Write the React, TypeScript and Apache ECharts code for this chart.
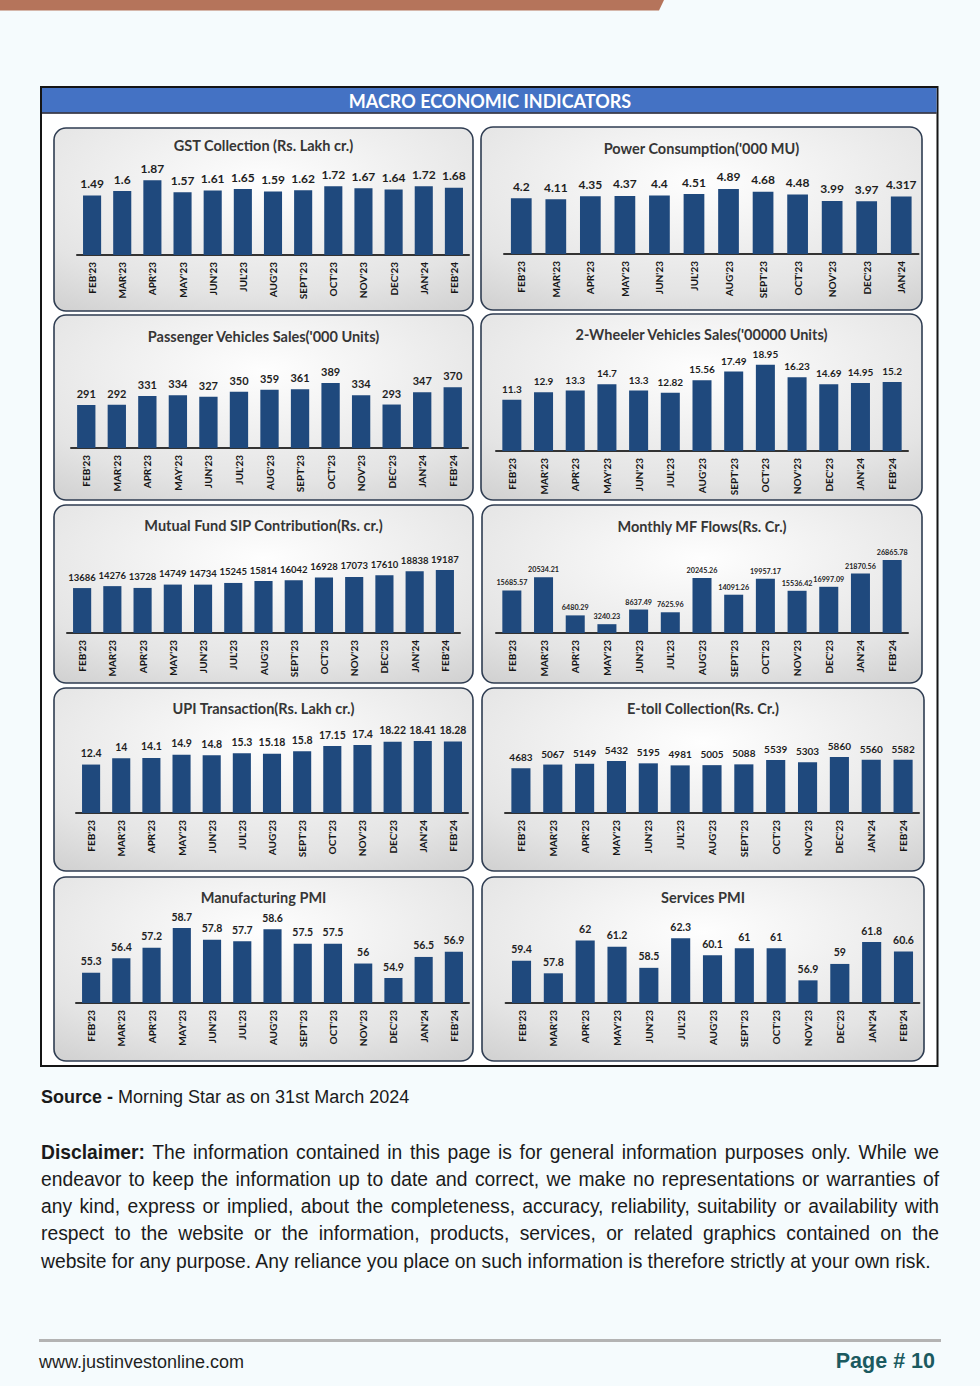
import React, { useEffect, useRef } from "react";
import * as echarts from "echarts";

// ---------- data ----------
const months13 = ["FEB'23", "MAR'23", "APR'23", "MAY'23", "JUN'23", "JUL'23", "AUG'23", "SEPT'23", "OCT'23", "NOV'23", "DEC'23", "JAN'24", "FEB'24"];
const months12 = ["FEB'23", "MAR'23", "APR'23", "MAY'23", "JUN'23", "JUL'23", "AUG'23", "SEPT'23", "OCT'23", "NOV'23", "DEC'23", "JAN'24"];

const gst = [1.49, 1.6, 1.87, 1.57, 1.61, 1.65, 1.59, 1.62, 1.72, 1.67, 1.64, 1.72, 1.68];
const power = [4.2, 4.11, 4.35, 4.37, 4.4, 4.51, 4.89, 4.68, 4.48, 3.99, 3.97, 4.317];
const passengerVehicles = [291, 292, 331, 334, 327, 350, 359, 361, 389, 334, 293, 347, 370];
const twoWheelers = [11.3, 12.9, 13.3, 14.7, 13.3, 12.82, 15.56, 17.49, 18.95, 16.23, 14.69, 14.95, 15.2];
const sip = [13686, 14276, 13728, 14749, 14734, 15245, 15814, 16042, 16928, 17073, 17610, 18838, 19187];
const mfFlows = [15685.57, 20534.21, 6480.29, 3240.23, 8637.49, 7625.96, 20245.26, 14091.26, 19957.17, 15536.42, 16997.09, 21870.56, 26865.78];
const upi = [12.4, 14, 14.1, 14.9, 14.8, 15.3, 15.18, 15.8, 17.15, 17.4, 18.22, 18.41, 18.28];
const etoll = [4683, 5067, 5149, 5432, 5195, 4981, 5005, 5088, 5539, 5303, 5860, 5560, 5582];
const mfgPmi = [55.3, 56.4, 57.2, 58.7, 57.8, 57.7, 58.6, 57.5, 57.5, 56, 54.9, 56.5, 56.9];
const servicesPmi = [59.4, 57.8, 62, 61.2, 58.5, 62.3, 60.1, 61, 61, 56.9, 59, 61.8, 60.6];

const titles = [
  "GST Collection (Rs. Lakh cr.)",
  "Power Consumption('000 MU)",
  "Passenger Vehicles Sales('000 Units)",
  "2-Wheeler Vehicles Sales('00000 Units)",
  "Mutual Fund SIP Contribution(Rs. cr.)",
  "Monthly MF Flows(Rs. Cr.)",
  "UPI Transaction(Rs. Lakh cr.)",
  "E-toll Collection(Rs. Cr.)",
  "Manufacturing PMI",
  "Services PMI",
];

// ---------- layout (positions / scales) ----------
const PLOT_H = 100;
const FONT = "Lato";
const panels = [
  { cats: months13, data: gst, box: [54, 128, 473, 311], titleY: 145, ax: [77, 469], axisY: 255, min: 0, max: 2.5, lbl: 12, dist: 6 },
  { cats: months12, data: power, box: [481, 127, 922, 310], titleY: 148, ax: [504, 918.5], axisY: 254, min: 0, max: 7.52, lbl: 12, dist: 6 },
  { cats: months13, data: passengerVehicles, box: [54, 315, 473, 500], titleY: 336, ax: [71, 468], axisY: 448, min: 100, max: 544, lbl: 11, dist: 6 },
  { cats: months13, data: twoWheelers, box: [481, 314, 922, 500], titleY: 334, ax: [496, 908], axisY: 451, min: 0, max: 22, lbl: 10, dist: 6 },
  { cats: months13, data: sip, box: [54, 505, 473, 683], titleY: 525, ax: [67, 460], axisY: 633, min: 0, max: 30460, lbl: 9.5, dist: 6 },
  { cats: months13, data: mfFlows, box: [482, 505, 922, 683], titleY: 526, ax: [496, 908], axisY: 633, min: 0, max: 36800, lbl: 7.2, dist: 4 },
  { cats: months13, data: upi, box: [54, 688, 473, 871], titleY: 708, ax: [76, 468], axisY: 813, min: 0, max: 25.6, lbl: 10.5, dist: 6 },
  { cats: months13, data: etoll, box: [482, 688, 924, 871], titleY: 708, ax: [505, 919], axisY: 813, min: 0, max: 10460, lbl: 10, dist: 6 },
  { cats: months13, data: mfgPmi, box: [54, 877, 473, 1061], titleY: 897, ax: [76, 469], axisY: 1003, min: 53, max: 60.6, lbl: 10.5, dist: 6 },
  { cats: months13, data: servicesPmi, box: [482, 877, 924, 1061], titleY: 897, ax: [505.6, 919.4], axisY: 1003, min: 54, max: 66.8, lbl: 10.5, dist: 6 },
];

function buildOption() {
  const grid: any[] = [];
  const xAxis: any[] = [];
  const yAxis: any[] = [];
  const series: any[] = [];
  const graphic: any[] = [];

  // top decorative bar
  graphic.push({
    type: "polygon",
    shape: { points: [[0, 0], [664, 0], [659, 10.5], [0, 10.5]] },
    style: { fill: "#b5745b" },
    z: 0,
  });
  // outer box
  graphic.push({
    type: "rect",
    shape: { x: 41, y: 87, width: 896.5, height: 979 },
    style: { fill: "#ffffff", stroke: "#151515", lineWidth: 2 },
    z: 0,
  });
  graphic.push({
    type: "rect",
    shape: { x: 42, y: 88, width: 894.5, height: 24.5 },
    style: { fill: "#4472c4" },
    z: 1,
  });
  graphic.push({
    type: "line",
    shape: { x1: 42, y1: 113, x2: 936.5, y2: 113 },
    style: { stroke: "#1a1a2a", lineWidth: 1.5 },
    z: 1,
  });
  graphic.push({
    type: "text",
    x: 490,
    y: 100.5,
    style: {
      text: "MACRO ECONOMIC INDICATORS",
      fill: "#ffffff",
      font: `bold 18px ${FONT}`,
      align: "center",
      verticalAlign: "middle",
    },
    z: 2,
  });

  panels.forEach((p, i) => {
    const [x0, y0, x1, y1] = p.box;
    graphic.push({
      type: "rect",
      shape: { x: x0, y: y0, width: x1 - x0, height: y1 - y0, r: 12 },
      style: {
        fill: new echarts.graphic.RadialGradient(0.5, 0.3, 1.35, [
          { offset: 0, color: "#fefefe" },
          { offset: 0.45, color: "#e4e4e4" },
          { offset: 1, color: "#a9a9a9" },
        ]),
        stroke: "#2f3d52",
        lineWidth: 1.6,
      },
      z: 1,
    });
    graphic.push({
      type: "text",
      x: (x0 + x1) / 2,
      y: p.titleY,
      style: {
        text: titles[i],
        fill: "#363636",
        font: `bold 14.5px ${FONT}`,
        align: "center",
        verticalAlign: "middle",
      },
      z: 2,
    });

    grid.push({
      left: p.ax[0],
      width: p.ax[1] - p.ax[0],
      top: p.axisY - PLOT_H,
      height: PLOT_H,
      containLabel: false,
    });
    xAxis.push({
      type: "category",
      gridIndex: i,
      data: p.cats,
      boundaryGap: true,
      z: 5,
      axisTick: { show: false },
      axisLine: { show: true, lineStyle: { color: "#333333", width: 2 } },
      axisLabel: {
        rotate: 90,
        interval: 0,
        margin: 7,
        fontSize: 10,
        fontWeight: "bold",
        fontFamily: FONT,
        color: "#151515",
      },
      splitLine: { show: false },
    });
    yAxis.push({
      type: "value",
      gridIndex: i,
      min: p.min,
      max: p.max,
      show: false,
      splitLine: { show: false },
    });
    series.push({
      type: "bar",
      xAxisIndex: i,
      yAxisIndex: i,
      data: p.data,
      barCategoryGap: "40%",
      itemStyle: { color: "#1f497d" },
      label: {
        show: true,
        position: "top",
        distance: p.dist,
        fontSize: p.lbl,
        fontWeight: "bold",
        fontFamily: FONT,
        color: "#1e1e1e",
        formatter: (d: any) => String(d.value),
      },
      z: 6,
    });
  });

  return {
    animation: false,
    backgroundColor: "transparent",
    textStyle: { fontFamily: FONT },
    grid,
    xAxis,
    yAxis,
    series,
    graphic,
  };
}

export default function App() {
  const ref = useRef<HTMLDivElement>(null);
  useEffect(() => {
    document.body.style.margin = "0";
    const chart = echarts.init(ref.current!, undefined, { renderer: "svg" });
    chart.setOption(buildOption() as any);
    return () => chart.dispose();
  }, []);

  const bodyFont = "'Liberation Sans', Arial, sans-serif";
  const just: any = { textAlign: "justify", textAlignLast: "justify" };

  return (
    <div style={{ position: "relative", width: 980, height: 1386, background: "#f5fbfd", overflow: "hidden" }}>
      <div ref={ref} style={{ position: "absolute", left: 0, top: 0, width: 980, height: 1386 }} />
      <div
        style={{
          position: "absolute",
          left: 41,
          top: 1086,
          fontFamily: bodyFont,
          fontSize: 18,
          lineHeight: "22px",
          color: "#1a1a1a",
        }}
      >
        <b>Source - </b>Morning Star as on 31st March 2024
      </div>
      <div
        style={{
          position: "absolute",
          left: 41,
          top: 1138.5,
          width: 898,
          fontFamily: bodyFont,
          fontSize: 19.3,
          lineHeight: "27.3px",
          color: "#1a1a1a",
        }}
      >
        <div style={just}>
          <b>Disclaimer:</b> The information contained in this page is for general information purposes only. While we
        </div>
        <div style={just}>
          endeavor to keep the information up to date and correct, we make no representations or warranties of
        </div>
        <div style={just}>
          any kind, express or implied, about the completeness, accuracy, reliability, suitability or availability with
        </div>
        <div style={just}>
          respect to the website or the information, products, services, or related graphics contained on the
        </div>
        <div style={{ whiteSpace: "nowrap" }}>
          website for any purpose. Any reliance you place on such information is therefore strictly at your own risk.
        </div>
      </div>
      <div style={{ position: "absolute", left: 39, top: 1339, width: 902, height: 2.5, background: "#b3b3b3" }} />
      <div
        style={{
          position: "absolute",
          left: 39,
          top: 1351,
          fontFamily: bodyFont,
          fontSize: 18,
          lineHeight: "22px",
          color: "#1f1f1f",
        }}
      >
        www.justinvestonline.com
      </div>
      <div
        style={{
          position: "absolute",
          right: 980 - 935,
          top: 1348,
          fontFamily: bodyFont,
          fontSize: 21.5,
          fontWeight: "bold",
          lineHeight: "26px",
          color: "#1b5a60",
        }}
      >
        Page # 10
      </div>
    </div>
  );
}
